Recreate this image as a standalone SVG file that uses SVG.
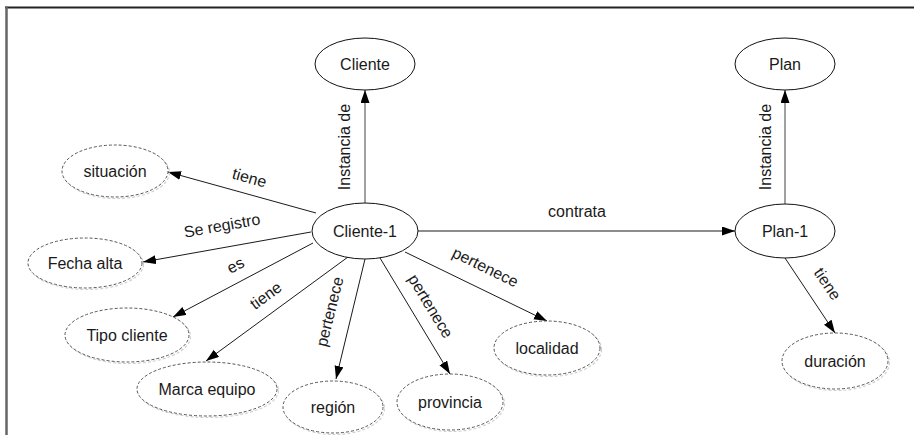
<svg xmlns="http://www.w3.org/2000/svg" width="914" height="435" viewBox="0 0 914 435">
<style>
text{font-family:"Liberation Sans",Arial,sans-serif;font-size:16px;fill:#1a1a1a}
.n text,.d text{text-anchor:middle}
.n ellipse{fill:#fff;stroke:#111;stroke-width:1}
.d ellipse.s{fill:none;stroke:#d0d0d0;stroke-width:1.2;stroke-dasharray:3 2}
.d ellipse.m{fill:#fff;stroke:#555;stroke-width:1;stroke-dasharray:3 2}
.c line{stroke:#1a1a1a;stroke-width:1;marker-end:url(#ah)}
.c line.g{stroke:#6e6e6e;stroke-width:1.3}
.lbl text{text-anchor:middle}
</style>
<defs>
<marker id="ah" markerUnits="userSpaceOnUse" markerWidth="14" markerHeight="10" refX="13" refY="4.5" orient="auto">
<path d="M0,0 L13,4.5 L0,9 z" fill="#000"/>
</marker>
</defs>
<rect width="914" height="435" fill="#fff"/>
<g id="frame">
<line x1="5" y1="7.5" x2="914" y2="7.5" stroke="#222" stroke-width="2"/>
<line x1="6.5" y1="6.5" x2="6.5" y2="435" stroke="#666" stroke-width="2.5"/>
</g>
<g id="connectors" class="c">
<line class="g" x1="365" y1="203" x2="365" y2="90"/>
<line class="g" x1="785" y1="204" x2="785" y2="90"/>
<line x1="316" y1="213" x2="168" y2="172"/>
<line x1="311" y1="232" x2="143" y2="262"/>
<line x1="313" y1="243" x2="173" y2="317"/>
<line x1="348" y1="257" x2="206" y2="361"/>
<line x1="365" y1="259" x2="336" y2="379"/>
<line x1="380" y1="258" x2="450" y2="374"/>
<line x1="405" y1="252" x2="547" y2="321"/>
<line x1="418" y1="231" x2="735" y2="231"/>
<line x1="785" y1="258" x2="835" y2="333"/>
</g>
<g id="labels" class="lbl">
<text transform="translate(350,147) rotate(-90)">Instancia de</text>
<text transform="translate(771,147) rotate(-90)">Instancia de</text>
<text transform="translate(248,183) rotate(15.5)">tiene</text>
<text transform="translate(223,231) rotate(-10)">Se registro</text>
<text transform="translate(238,270) rotate(-28)">es</text>
<text transform="translate(269,300) rotate(-36)">tiene</text>
<text transform="translate(335,313) rotate(-76)">pertenece</text>
<text transform="translate(426,309) rotate(58.7)">pertenece</text>
<text transform="translate(483,272) rotate(26)">pertenece</text>
<text x="577" y="217">contrata</text>
<text transform="translate(823,287) rotate(56)">tiene</text>
</g>
<g id="cliente" class="n"><ellipse cx="365" cy="64" rx="50" ry="26"/><text x="365" y="70">Cliente</text></g>
<g id="plan" class="n"><ellipse cx="785" cy="64" rx="50" ry="26"/><text x="785" y="70">Plan</text></g>
<g id="cliente-1" class="n"><ellipse cx="365" cy="231" rx="53" ry="28"/><text x="365" y="237">Cliente-1</text></g>
<g id="plan-1" class="n"><ellipse cx="785" cy="231" rx="50" ry="27"/><text x="785" y="237">Plan-1</text></g>
<g id="situacion" class="d"><ellipse class="s" cx="116.5" cy="172.5" rx="53" ry="26"/><ellipse class="m" cx="115" cy="171" rx="53" ry="26"/><text x="115" y="177">situación</text></g>
<g id="fecha-alta" class="d"><ellipse class="s" cx="86.5" cy="264.5" rx="57" ry="25"/><ellipse class="m" cx="85" cy="263" rx="57" ry="25"/><text x="85" y="269">Fecha alta</text></g>
<g id="tipo-cliente" class="d"><ellipse class="s" cx="128.5" cy="336.5" rx="62" ry="27"/><ellipse class="m" cx="127" cy="335" rx="62" ry="27"/><text x="127" y="341">Tipo cliente</text></g>
<g id="marca-equipo" class="d"><ellipse class="s" cx="208.5" cy="390.5" rx="70" ry="27"/><ellipse class="m" cx="207" cy="389" rx="70" ry="27"/><text x="207" y="395">Marca equipo</text></g>
<g id="region" class="d"><ellipse class="s" cx="334.5" cy="408.5" rx="50" ry="26"/><ellipse class="m" cx="333" cy="407" rx="50" ry="26"/><text x="333" y="413">región</text></g>
<g id="provincia" class="d"><ellipse class="s" cx="451.5" cy="403.5" rx="53" ry="28"/><ellipse class="m" cx="450" cy="402" rx="53" ry="28"/><text x="450" y="408">provincia</text></g>
<g id="localidad" class="d"><ellipse class="s" cx="548.5" cy="349.5" rx="53" ry="27"/><ellipse class="m" cx="547" cy="348" rx="53" ry="27"/><text x="547" y="354">localidad</text></g>
<g id="duracion" class="d"><ellipse class="s" cx="836.5" cy="362.5" rx="53" ry="28"/><ellipse class="m" cx="835" cy="361" rx="53" ry="28"/><text x="835" y="367">duración</text></g>
</svg>
